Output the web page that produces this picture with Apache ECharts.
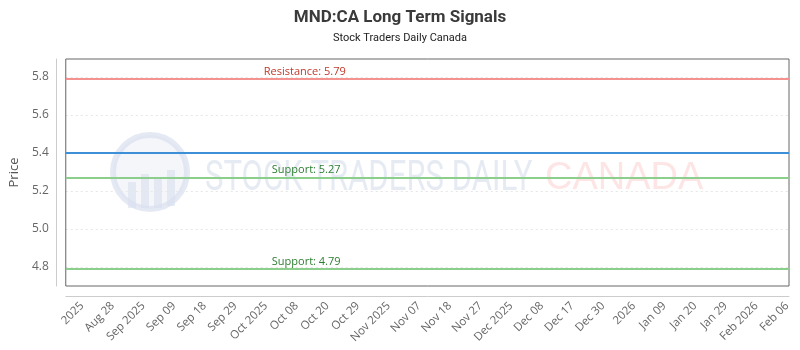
<!DOCTYPE html>
<html>
<head>
<meta charset="utf-8">
<script src="https://cdn.jsdelivr.net/npm/echarts@6/dist/echarts.min.js"></script>
<style>
  html, body { margin: 0; padding: 0; background: #fff; }
  #main { width: 800px; height: 350px; }
</style>
</head>
<body>
<div id="main"></div>
<script>
// tick labels on the date axis
var dates = ['2025', 'Aug 28', 'Sep 2025', 'Sep 09', 'Sep 18', 'Sep 29', 'Oct 2025', 'Oct 08',
    'Oct 20', 'Oct 29', 'Nov 2025', 'Nov 07', 'Nov 18', 'Nov 27', 'Dec 2025', 'Dec 08',
    'Dec 17', 'Dec 30', '2026', 'Jan 09', 'Jan 20', 'Jan 29', 'Feb 2026', 'Feb 06'];

// signal levels
var levelNames = ['Resistance', 'Price', 'Support', 'Support'];
var levelValues = [5.79, 5.40, 5.27, 4.79];

// price axis range
var yMin = 4.7, yMax = 5.895;

var chart = echarts.init(document.getElementById('main'));

var lineColors = ['#f4928f', '#3d8fd8', '#8ccf8c', '#8ccf8c'];
var textColors = ['#c0392b', '', '#2e7d32', '#2e7d32'];
var labelShift = [198, 0, 206, 206];

var markData = levelValues.map(function (v, i) {
    var d = {
        yAxis: v,
        lineStyle: { color: lineColors[i], width: 2, type: 'solid' },
        label: { show: false }
    };
    if (levelNames[i] !== 'Price') {
        d.label = {
            show: true,
            position: 'insideStartTop',
            distance: [labelShift[i], 2],
            formatter: levelNames[i] + ': ' + v.toFixed(2),
            color: textColors[i],
            fontSize: 11,
            fontFamily: 'Open Sans'
        };
    }
    return d;
});

var option = {
    backgroundColor: '#fff',
    animation: false,
    title: {
        text: 'MND:CA Long Term Signals',
        subtext: 'Stock Traders Daily Canada',
        left: 'center', top: 4, itemGap: 7,
        textStyle: { fontFamily: 'Roboto', fontWeight: 'bold', fontSize: 17, color: '#3a3a3a' },
        subtextStyle: { fontFamily: 'Roboto', fontSize: 11, color: '#222' }
    },
    graphic: [
        {
            type: 'group', x: 108, y: 132, silent: true,
            children: [
                { type: 'circle', shape: { cx: 42, cy: 40, r: 37 }, style: { fill: 'rgba(230,236,245,0.45)', stroke: 'rgba(216,224,238,0.7)', lineWidth: 6 } },
                { type: 'rect', shape: { x: 20, y: 50, width: 8, height: 26 }, style: { fill: 'rgba(216,224,238,0.6)' } },
                { type: 'rect', shape: { x: 33, y: 42, width: 8, height: 34 }, style: { fill: 'rgba(216,224,238,0.6)' } },
                { type: 'rect', shape: { x: 46, y: 46, width: 8, height: 30 }, style: { fill: 'rgba(216,224,238,0.6)' } },
                { type: 'rect', shape: { x: 59, y: 38, width: 8, height: 36 }, style: { fill: 'rgba(216,224,238,0.6)' } }
            ]
        },
        {
            type: 'text', x: 205, y: 179, scaleX: 0.74, silent: true,
            style: { text: 'STOCK TRADERS DAILY', x: 0, y: 0, verticalAlign: 'middle',
                font: '42px Roboto', fill: 'rgba(224,230,240,0.8)' }
        },
        {
            type: 'text', x: 545, y: 179, silent: true,
            style: { text: 'CANADA', x: 0, y: 0, verticalAlign: 'middle',
                font: '38px "Liberation Sans"', fill: 'rgba(252,222,222,0.8)' }
        }
    ],
    grid: [
        { left: 63, right: 11, top: 59, bottom: 64 },
        { left: 82, right: 13, top: 59, bottom: 64 }
    ],
    xAxis: [
        {
            gridIndex: 0, type: 'category', data: dates, boundaryGap: false, position: 'bottom', offset: 10,
            axisLine: { show: true, onZero: false, lineStyle: { color: '#ccc' } },
            axisTick: { show: false }, axisLabel: { show: false }, splitLine: { show: false }
        },
        {
            gridIndex: 1, type: 'category', data: dates, boundaryGap: false,
            axisLine: { show: false }, axisTick: { show: false }, splitLine: { show: false },
            axisLabel: {
                interval: 0, rotate: 45, margin: 18, color: '#666', fontSize: 11.5, fontFamily: 'Open Sans'
            }
        }
    ],
    yAxis: [
        {
            gridIndex: 0, type: 'value', min: yMin, max: yMax, splitNumber: 6, position: 'left', offset: 10,
            name: 'Price', nameLocation: 'middle', nameGap: 33,
            nameTextStyle: { fontSize: 13, color: '#555', fontFamily: 'Open Sans' },
            axisLine: { show: true, lineStyle: { color: '#ccc' } },
            axisTick: { show: false },
            axisLabel: {
                showMinLabel: false, showMaxLabel: false, margin: 7,
                color: '#666', fontSize: 12, fontFamily: 'Open Sans',
                formatter: function (v) { return v.toFixed(1); }
            },
            splitLine: { show: true, showMinLine: false, showMaxLine: false, lineStyle: { color: '#e6e6e6', type: [2, 3] } }
        },
        { gridIndex: 1, type: 'value', show: false }
    ],
    series: [
        {
            type: 'line', xAxisIndex: 0, yAxisIndex: 0, data: [],
            // frame round the plot, spanning the whole value range
            markArea: {
                silent: true,
                itemStyle: { color: 'rgba(0,0,0,0)', borderColor: '#666', borderWidth: 1 },
                data: [[{ yAxis: yMin }, { yAxis: yMax }]]
            },
            markLine: { silent: true, symbol: 'none', data: markData }
        }
    ]
};

chart.setOption(option);
</script>
</body>
</html>
